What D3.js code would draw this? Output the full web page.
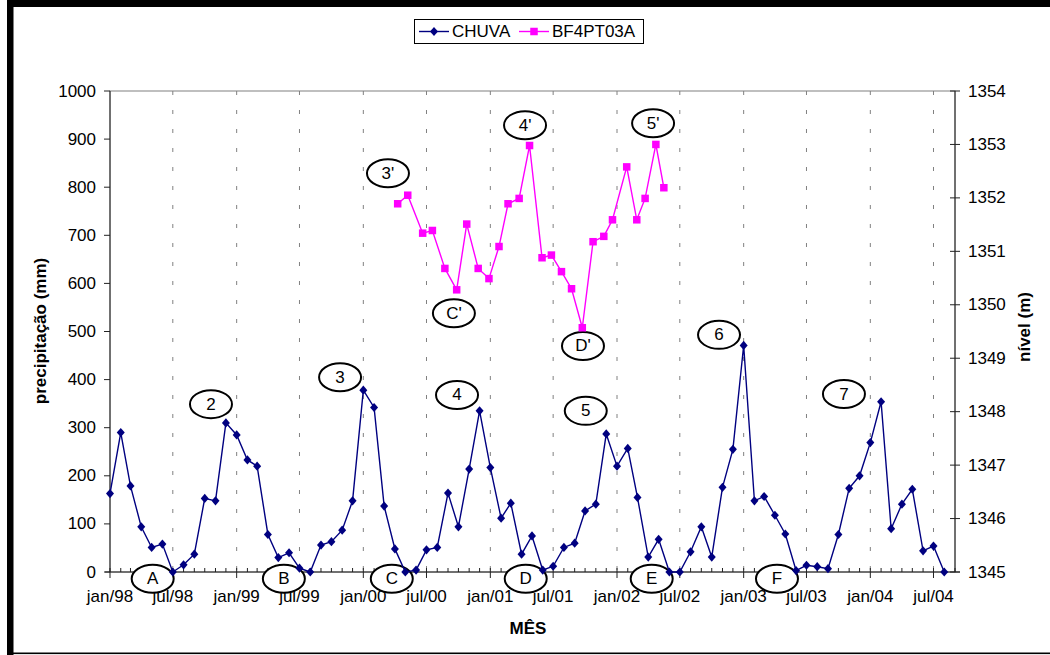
<!DOCTYPE html>
<html>
<head>
<meta charset="utf-8">
<script src="https://cdn.jsdelivr.net/npm/d3@7"></script>
<style>
  html, body { margin: 0; padding: 0; background: #fff; }
  svg { display: block; font-family: "Liberation Sans", Arial, sans-serif; }
</style>
</head>
<body>
<svg id="chart" width="1050" height="655"></svg>
<script>
// ---- data ----
const chuvaMonths = [
  "1998-01","1998-02","1998-03","1998-04","1998-05","1998-06","1998-07","1998-08","1998-09","1998-10","1998-11","1998-12",
  "1999-01","1999-02","1999-03","1999-04","1999-05","1999-06","1999-07","1999-08","1999-09","1999-10","1999-11","1999-12",
  "2000-01","2000-02","2000-03","2000-04","2000-05","2000-06","2000-07","2000-08","2000-09","2000-10","2000-11","2000-12",
  "2001-01","2001-02","2001-03","2001-04","2001-05","2001-06","2001-07","2001-08","2001-09","2001-10","2001-11","2001-12",
  "2002-01","2002-02","2002-03","2002-04","2002-05","2002-06","2002-07","2002-08","2002-09","2002-10","2002-11","2002-12",
  "2003-01","2003-02","2003-03","2003-04","2003-05","2003-06","2003-07","2003-08","2003-09","2003-10","2003-11","2003-12",
  "2004-01","2004-02","2004-03","2004-04","2004-05","2004-06","2004-07","2004-08"
];
const chuvaValues = [
  163,290,179,94,51,58,0,15,37,153,148,310,
  285,233,220,78,30,40,8,0,56,63,87,148,
  378,342,137,48,0,4,46,51,164,94,214,335,
  217,112,143,37,75,4,12,51,60,127,141,287,
  220,257,155,31,68,0,0,42,94,31,176,255,
  471,148,157,118,79,3,14,11,7,78,174,200,
  269,354,90,141,172,44,54,0
];
const nivelDates = [
  "2000-04-09","2000-05-08","2000-06-20","2000-07-18","2000-08-23","2000-09-26","2000-10-25","2000-11-27","2000-12-28",
  "2001-01-26","2001-02-21","2001-03-25","2001-04-24","2001-05-30","2001-06-26","2001-07-25","2001-08-23","2001-09-23",
  "2001-10-24","2001-11-24","2001-12-19","2002-01-29","2002-02-27","2002-03-23","2002-04-23","2002-05-16"
];
const nivelValues = [
  1351.89,1352.05,1351.34,1351.39,1350.68,1350.28,1351.51,1350.68,1350.49,
  1351.09,1351.89,1351.99,1352.98,1350.88,1350.93,1350.62,1350.30,1349.57,
  1351.18,1351.28,1351.59,1352.58,1351.59,1351.99,1353.00,1352.19
];
const xTickDates  = ["1998-01","1998-07","1999-01","1999-07","2000-01","2000-07","2001-01","2001-07","2002-01","2002-07","2003-01","2003-07","2004-01","2004-07"];
const xTickLabels = ["jan/98","jul/98","jan/99","jul/99","jan/00","jul/00","jan/01","jul/01","jan/02","jul/02","jan/03","jul/03","jan/04","jul/04"];
const leftTicks  = [0,100,200,300,400,500,600,700,800,900,1000];
const rightTicks = [1345,1346,1347,1348,1349,1350,1351,1352,1353,1354];
const seriesNames = ["CHUVA","BF4PT03A"];
const seriesColors = ["#000080","#FF00FF"];
// annotation ellipses: label, date (x), left-axis value (y)
const annLabels = ["A","B","C","D","E","F","2","3","4","5","6","7","3'","4'","5'","C'","D'"];
const annDates  = ["1998-05-04","1999-05-17","2000-03-23","2001-04-13","2002-04-11","2003-04-07",
                   "1998-10-19","1999-10-26","2000-09-27","2001-10-03","2002-10-22","2003-10-17",
                   "2000-03-12","2001-04-11","2002-04-15","2000-09-18","2001-09-25"];
const annValues = [-14,-14,-14,-14,-14,-14, 349,405,368,335,493,370, 829,929,933,538,470];

// ---- layout ----
const parseM = d3.utcParse("%Y-%m");
const parseD = d3.utcParse("%Y-%m-%d");
const svg = d3.select("#chart");
const x = d3.scaleUtc().domain([parseM("1998-01"), parseM("2004-09")]).range([110, 955]);
const yL = d3.scaleLinear().domain([0, 1000]).range([572, 91]);
const yR = d3.scaleLinear().domain([1345, 1354]).range([572, 91]);

// frame
svg.append("rect").attr("x", 7).attr("y", 0).attr("width", 1043).attr("height", 7).attr("fill", "#000");
svg.append("rect").attr("x", 7).attr("y", 0).attr("width", 6.5).attr("height", 655).attr("fill", "#000");
svg.append("rect").attr("x", 7).attr("y", 652.5).attr("width", 1043).attr("height", 1.6).attr("fill", "#000");

// plot area border
svg.append("rect").attr("x", 110).attr("y", 91).attr("width", 845).attr("height", 481)
  .attr("fill", "none").attr("stroke", "#808080").attr("stroke-width", 1);

// vertical dashed gridlines
const grid = svg.append("g");
xTickDates.slice(1).forEach(d => {
  const gx = x(parseM(d));
  grid.append("line").attr("x1", gx).attr("x2", gx).attr("y1", 91).attr("y2", 572)
    .attr("stroke", "#808080").attr("stroke-width", 1).attr("stroke-dasharray", "4,15");
});

// axes lines
const axisColor = "#222";
svg.append("line").attr("x1", 110).attr("x2", 110).attr("y1", 91).attr("y2", 572).attr("stroke", axisColor);
svg.append("line").attr("x1", 955).attr("x2", 955).attr("y1", 91).attr("y2", 572).attr("stroke", axisColor);
svg.append("line").attr("x1", 105).attr("x2", 960).attr("y1", 572).attr("y2", 572).attr("stroke", axisColor);

// left ticks/labels
const fs = 17;
leftTicks.forEach(v => {
  svg.append("line").attr("x1", 104).attr("x2", 110).attr("y1", yL(v)).attr("y2", yL(v)).attr("stroke", axisColor);
  svg.append("text").attr("x", 96).attr("y", yL(v)).attr("text-anchor", "end").attr("dominant-baseline", "central")
    .attr("font-size", fs).text(v);
});
// right ticks/labels
rightTicks.forEach(v => {
  svg.append("line").attr("x1", 950).attr("x2", 960).attr("y1", yR(v)).attr("y2", yR(v)).attr("stroke", axisColor);
  svg.append("text").attr("x", 968).attr("y", yR(v)).attr("text-anchor", "start").attr("dominant-baseline", "central")
    .attr("font-size", fs).text(v);
});
// x minor ticks (monthly, inside)
chuvaMonths.concat(["2004-09"]).forEach(m => {
  const tx = x(parseM(m));
  svg.append("line").attr("x1", tx).attr("x2", tx).attr("y1", 568).attr("y2", 572).attr("stroke", axisColor);
});
// x major ticks + labels
xTickDates.forEach((d, i) => {
  const tx = x(parseM(d));
  svg.append("line").attr("x1", tx).attr("x2", tx).attr("y1", 572).attr("y2", 578).attr("stroke", axisColor);
  svg.append("text").attr("x", tx).attr("y", 602).attr("text-anchor", "middle").attr("font-size", fs).text(xTickLabels[i]);
});

// axis titles
svg.append("text").attr("transform", "translate(40,331) rotate(-90)").attr("text-anchor", "middle")
  .attr("dominant-baseline", "central").attr("font-size", fs).attr("font-weight", "bold").text("precipitação (mm)");
svg.append("text").attr("transform", "translate(1024,327) rotate(-90)").attr("text-anchor", "middle")
  .attr("dominant-baseline", "central").attr("font-size", fs).attr("font-weight", "bold").text("nível (m)");
svg.append("text").attr("x", 528).attr("y", 634).attr("text-anchor", "middle")
  .attr("font-size", fs).attr("font-weight", "bold").text("MÊS");

// annotations
const ann = svg.append("g");
annLabels.forEach((lab, i) => {
  const cx = x(parseD(annDates[i])), cy = yL(annValues[i]);
  ann.append("ellipse").attr("cx", cx).attr("cy", cy).attr("rx", 21).attr("ry", 14)
    .attr("fill", "#fff").attr("stroke", "#000").attr("stroke-width", 2);
  ann.append("text").attr("x", cx).attr("y", cy).attr("text-anchor", "middle").attr("dominant-baseline", "central")
    .attr("font-size", fs).text(lab);
});

// series
const chuva = chuvaMonths.map((m, i) => ({ d: parseM(m), v: chuvaValues[i] }));
const nivel = nivelDates.map((s, i) => ({ d: parseD(s), v: nivelValues[i] }));
const diamondPath = "M0,-4.6L4,0L0,4.6L-4,0Z";

svg.append("path").datum(chuva)
  .attr("d", d3.line().x(p => x(p.d)).y(p => yL(p.v)))
  .attr("fill", "none").attr("stroke", seriesColors[0]).attr("stroke-width", 1.4);
svg.append("g").selectAll("path").data(chuva).join("path")
  .attr("d", diamondPath).attr("transform", p => `translate(${x(p.d)},${yL(p.v)})`).attr("fill", seriesColors[0]);

svg.append("path").datum(nivel)
  .attr("d", d3.line().x(p => x(p.d)).y(p => yR(p.v)))
  .attr("fill", "none").attr("stroke", seriesColors[1]).attr("stroke-width", 1.4);
svg.append("g").selectAll("rect").data(nivel).join("rect")
  .attr("x", p => x(p.d) - 3.75).attr("y", p => yR(p.v) - 3.75).attr("width", 7.5).attr("height", 7.5)
  .attr("fill", seriesColors[1]);

// legend
const lg = svg.append("g");
lg.append("rect").attr("x", 414.5).attr("y", 19.5).attr("width", 229).attr("height", 24)
  .attr("fill", "#fff").attr("stroke", "#000").attr("stroke-width", 1);
lg.append("line").attr("x1", 419).attr("x2", 449).attr("y1", 31.5).attr("y2", 31.5).attr("stroke", seriesColors[0]).attr("stroke-width", 1.4);
lg.append("path").attr("d", diamondPath).attr("transform", "translate(434,31.5)").attr("fill", seriesColors[0]);
lg.append("text").attr("x", 452).attr("y", 31.5).attr("dominant-baseline", "central").attr("font-size", fs).text(seriesNames[0]);
lg.append("line").attr("x1", 519).attr("x2", 549).attr("y1", 31.5).attr("y2", 31.5).attr("stroke", seriesColors[1]).attr("stroke-width", 1.4);
lg.append("rect").attr("x", 530.25).attr("y", 27.75).attr("width", 7.5).attr("height", 7.5).attr("fill", seriesColors[1]);
lg.append("text").attr("x", 552).attr("y", 31.5).attr("dominant-baseline", "central").attr("font-size", fs).text(seriesNames[1]);
</script>
</body>
</html>
